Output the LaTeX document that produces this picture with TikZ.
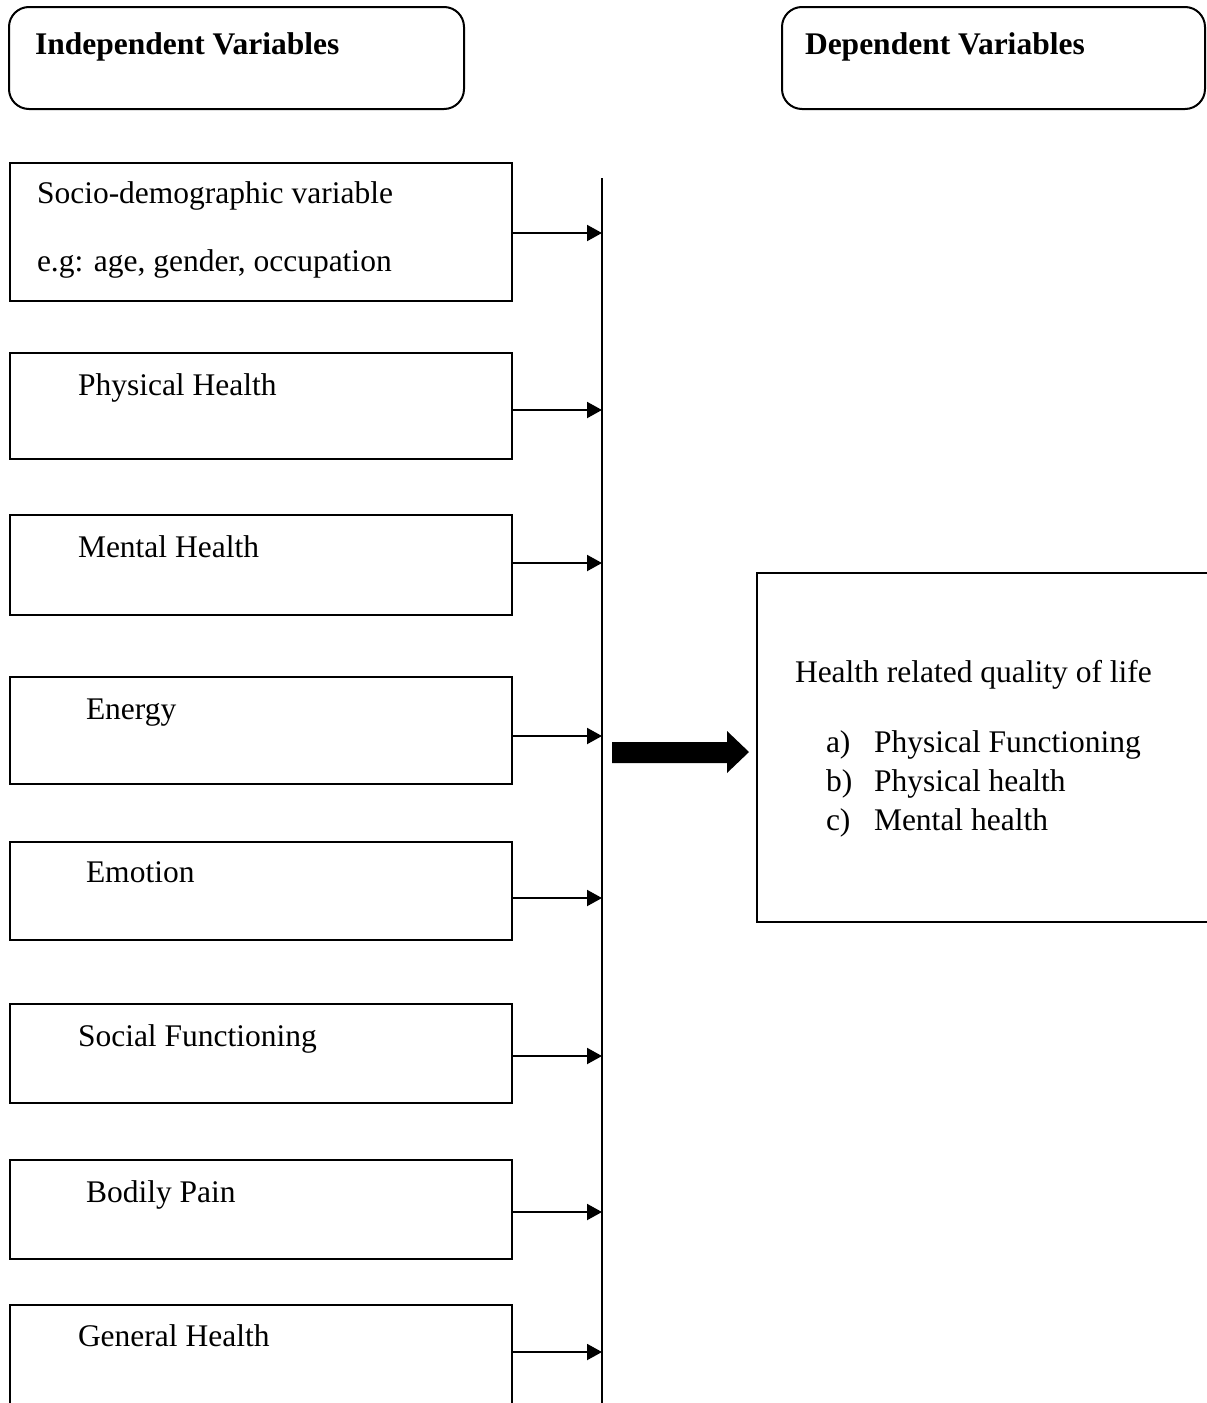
\documentclass[tikz,border=0pt]{standalone}
\usepackage{fontspec}
\setmainfont{Liberation Serif}
\usetikzlibrary{arrows.meta,calc}
\begin{document}
\begin{tikzpicture}[x=1pt,y=-1pt,
  every node/.style={inner sep=0pt,outer sep=0pt},
  hdrbox/.style={draw,line width=2pt,rounded corners=20pt,anchor=north west,minimum height=102pt},
  varbox/.style={draw,line width=2pt,anchor=north west,minimum width=502pt,rectangle},
  txt/.style={anchor=base west,font=\fontsize{31.5}{39}\selectfont},
  btxt/.style={anchor=base west,font=\fontsize{31.5}{39}\selectfont\bfseries},
  arr/.style={line width=2pt,-{Triangle[length=15pt,width=16pt]}},
  vln/.style={line width=2pt}]
\clip (0,0) rectangle (1207,1403);
\fill[white] (0,0) rectangle (1207,1403);
% header boxes
\node[hdrbox,minimum width=455pt] (ind) at (9,7) {};
\node[btxt] (indt) at (35,54) {Independent Variables};
\node[hdrbox,minimum width=423pt] (dep) at (782,7) {};
\node[btxt] (dept) at (805,54) {Dependent Variables};
% variable boxes
\node[varbox,minimum height=138pt] (b1) at (10,163) {};
\node[txt] (t1a) at (37,203) {Socio-demographic variable};
\node[txt] (t1b) at (37,271) {e.g: age, gender, occupation};
\node[varbox,minimum height=106pt] (b2) at (10,353) {};
\node[txt] (t2) at (78,395) {Physical Health};
\node[varbox,minimum height=100pt] (b3) at (10,515) {};
\node[txt] (t3) at (78,557) {Mental Health};
\node[varbox,minimum height=107pt] (b4) at (10,677) {};
\node[txt] (t4) at (86,719) {Energy};
\node[varbox,minimum height=98pt] (b5) at (10,842) {};
\node[txt] (t5) at (86,882) {Emotion};
\node[varbox,minimum height=99pt] (b6) at (10,1004) {};
\node[txt] (t6) at (78,1046) {Social Functioning};
\node[varbox,minimum height=99pt] (b7) at (10,1160) {};
\node[txt] (t7) at (86,1202) {Bodily Pain};
\node[varbox,minimum height=120pt] (b8) at (10,1305) {};
\node[txt] (t8) at (78,1346) {General Health};
% vertical collector line
\coordinate (vtop) at (602,178);
\coordinate (vbot) at (602,1410);
\draw[vln] (vtop) -- (vbot);
% arrows
\draw[arr] (b1.north east |- 0,233) -- (vtop |- 0,233);
\draw[arr] (b2.north east |- 0,410) -- (vtop |- 0,410);
\draw[arr] (b3.north east |- 0,563) -- (vtop |- 0,563);
\draw[arr] (b4.north east |- 0,736) -- (vtop |- 0,736);
\draw[arr] (b5.north east |- 0,898) -- (vtop |- 0,898);
\draw[arr] (b6.north east |- 0,1056) -- (vtop |- 0,1056);
\draw[arr] (b7.north east |- 0,1212) -- (vtop |- 0,1212);
\draw[arr] (b8.north east |- 0,1352) -- (vtop |- 0,1352);
% outcome box
\node[draw,line width=2pt,anchor=north west,minimum width=470pt,minimum height=349pt] (hq) at (757,573) {};
\node[txt] (hqt) at (795,682) {Health related quality of life};
\node[txt] (la) at (826,752) {a)};
\node[txt] (lat) at (874,752) {Physical Functioning};
\node[txt] (lb) at (826,791) {b)};
\node[txt] (lbt) at (874,791) {Physical health};
\node[txt] (lc) at (826,830) {c)};
\node[txt] (lct) at (874,830) {Mental health};
% big arrow
\fill (612,742) -- (727,742) -- (727,731) -- (749,752) -- (727,773) -- (727,763) -- (612,763) -- cycle;
\end{tikzpicture}
\end{document}
